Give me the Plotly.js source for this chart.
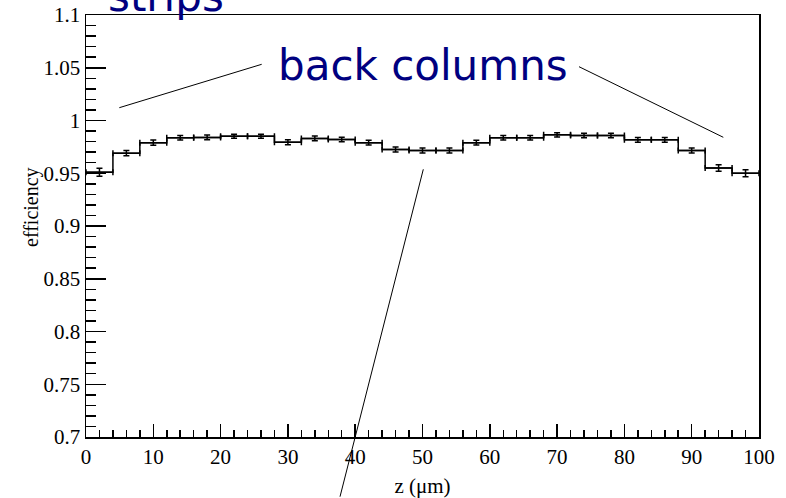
<!DOCTYPE html>
<html>
<head>
<meta charset="utf-8">
<script src="https://cdn.plot.ly/plotly-3.0.1.min.js"></script>
<style>html,body{margin:0;padding:0;background:#fff;}#chart{width:786px;height:498px;}</style>
</head>
<body>
<div id="chart"></div>
<script>
// bin centres (z in micrometres), efficiency and statistical errors
const zCenters = [2, 6, 10, 14, 18, 22, 26, 30, 34, 38, 42, 46, 50, 54, 58, 62, 66, 70, 74, 78, 82, 86, 90, 94, 98];
const efficiency = [0.951, 0.969, 0.979, 0.9836, 0.984, 0.985, 0.985, 0.9794, 0.983, 0.982, 0.979, 0.9725, 0.9715, 0.9715, 0.979, 0.9836, 0.9836, 0.9864, 0.9858, 0.9858, 0.9817, 0.9817, 0.9715, 0.955, 0.950];
const errors = [0.0038, 0.0025, 0.0024, 0.0022, 0.0022, 0.0019, 0.0019, 0.0023, 0.0022, 0.0022, 0.0023, 0.0024, 0.0024, 0.0024, 0.0023, 0.0022, 0.0022, 0.0021, 0.0021, 0.0021, 0.0022, 0.0022, 0.0024, 0.0031, 0.0033];
const binWidth = 4;
const xTitle = 'z (\u03bcm)';
const yTitle = 'efficiency';
const labelBack = 'back columns';
const labelStrips = 'strips';

const edges = zCenters.map(c => c - binWidth / 2).concat([zCenters[zCenters.length - 1] + binWidth / 2]);
const stepY = efficiency.concat([efficiency[efficiency.length - 1]]);

const stepTrace = {
  x: edges, y: stepY, type: 'scatter', mode: 'lines',
  line: {shape: 'hv', color: '#000', width: 1.5},
  hoverinfo: 'skip', showlegend: false
};
const errTrace = {
  x: zCenters, y: efficiency, type: 'scatter', mode: 'markers',
  marker: {size: 1, color: '#000'},
  error_y: {type: 'data', array: errors, visible: true, color: '#000', thickness: 1.5, width: 3},
  error_x: {type: 'constant', value: binWidth / 2, visible: true, color: '#000', thickness: 1.5, width: 3},
  showlegend: false
};

const W = 786, H = 498;
const L = 86, R = 27, T = 15, B = 61;
const pw = W - L - R, ph = H - T - B;
const px = x => (x - L) / pw;
const py = y => (H - B - y) / ph;

function seg(x0, y0, x1, y1) {
  return {type: 'line', xref: 'paper', yref: 'paper', x0: px(x0), y0: py(y0), x1: px(x1), y1: py(y1),
          line: {color: '#000', width: 1}};
}

const SERIF = "Times New Roman, Liberation Serif, serif";
const SANS = "DejaVu Sans";

const layout = {
  width: W, height: H,
  margin: {l: L, r: R, t: T, b: B, pad: 0},
  paper_bgcolor: '#fff', plot_bgcolor: '#fff',
  showlegend: false,
  font: {family: SERIF, color: '#000'},
  xaxis: {
    range: [0, 100], dtick: 10, tick0: 0,
    ticks: 'inside', ticklen: 13, tickwidth: 1.5, tickcolor: '#000',
    minor: {dtick: 2, ticks: 'inside', ticklen: 7, tickwidth: 1.5, tickcolor: '#000'},
    showline: true, linecolor: '#000', linewidth: 1.5, mirror: true,
    showgrid: false, zeroline: false,
    tickfont: {size: 21, family: SERIF, color: '#000', weight: 'normal'},
    title: {text: xTitle, font: {size: 21, family: SERIF, color: '#000'}, standoff: 10}
  },
  yaxis: {
    range: [0.7, 1.1], dtick: 0.05, tick0: 0.7,
    ticks: 'inside', ticklen: 20, tickwidth: 1.5, tickcolor: '#000',
    minor: {dtick: 0.01, ticks: 'inside', ticklen: 10, tickwidth: 1.5, tickcolor: '#000'},
    showline: true, linecolor: '#000', linewidth: 1.5, mirror: true,
    showgrid: false, zeroline: false,
    tickfont: {size: 21, family: SERIF, color: '#000', weight: 'normal'}
  },
  shapes: [
    seg(119.3, 107.7, 261.7, 64.3),
    seg(579, 66.7, 723.3, 137.3),
    seg(423.3, 169.3, 340, 496.7)
  ],
  annotations: [
    {text: yTitle, xref: 'paper', yref: 'paper', x: px(31), y: py(207), xanchor: 'center', yanchor: 'middle',
     textangle: -90, showarrow: false, font: {family: SERIF, size: 20, color: '#000'}},
    {text: labelBack, xref: 'paper', yref: 'paper', x: px(423), y: py(65), xanchor: 'center', yanchor: 'middle',
     showarrow: false, font: {family: SANS, size: 42, color: '#000080'}},
    {text: labelStrips, xref: 'paper', yref: 'paper', x: px(166), y: py(-4), xanchor: 'center', yanchor: 'middle',
     showarrow: false, font: {family: SANS, size: 42, color: '#000080'}}
  ]
};

Plotly.newPlot('chart', [stepTrace, errTrace], layout, {displayModeBar: false, staticPlot: true});
</script>
</body>
</html>
